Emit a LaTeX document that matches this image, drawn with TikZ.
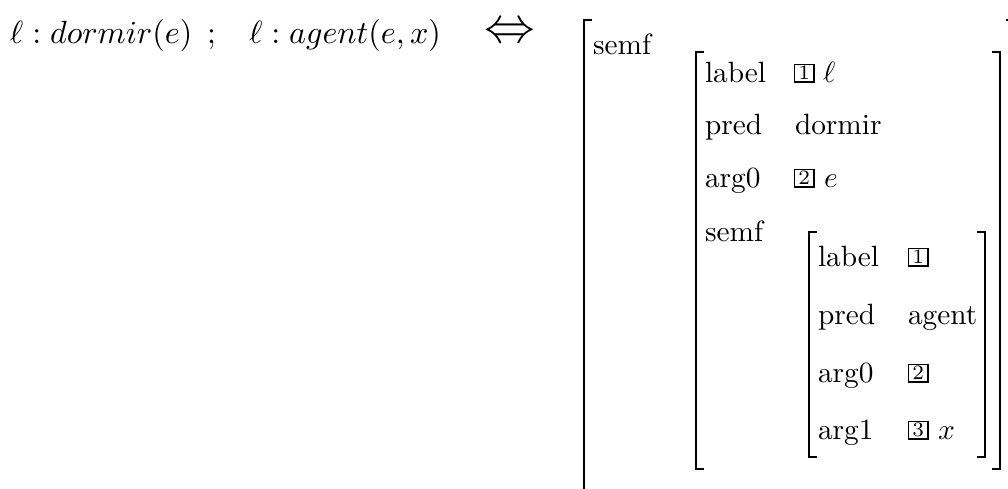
\documentclass[tikz,border=0pt]{standalone}
\begin{document}
\begin{tikzpicture}[x=0.341pt,y=-0.341pt,
  txt/.style={anchor=base west, inner sep=0, outer sep=0},
  ftxt/.style={txt, font=\fontsize{10.95}{13}\selectfont},
  brk/.style={line width=0.6pt},
  tagbox/.style={draw, line width=0.4pt, inner sep=0, minimum width=6.6pt, minimum height=6pt, font=\scriptsize, anchor=south west}]
\useasboundingbox (0,0) rectangle (1008,488);
\clip (0,0) rectangle (1008,488);
% formula
\node[ftxt] (f1) at (10,43) {$\ell : dormir(e)$};
\node[ftxt] (semi) at (207,43) {;};
\node[ftxt] (f2) at (249,43) {$\ell : agent(e,x)$};
\node[inner sep=0] (iff) at (510,33) {\LARGE$\Leftrightarrow$};
% brackets
\draw[brk] (592,20)--(584,20)--(584,500);
\draw[brk] (1006,20)--(1014,20)--(1014,500);
\draw[brk] (704,52)--(696,52)--(696,469)--(704,469);
\draw[brk] (992,52)--(1000,52)--(1000,469)--(992,469);
\draw[brk] (817,232)--(809,232)--(809,457)--(817,457);
\draw[brk] (977,232)--(985,232)--(985,457)--(977,457);
% outer
\node[txt] (semfo) at (593,54) {semf};
% inner 1
\node[txt] (l1) at (705,82) {label};
\node[tagbox] (t1) at (794,82.5) {1};
\node[txt] (v1) at (823,82) {$\ell$};
\node[txt] (l2) at (705,134) {pred};
\node[txt] (v2) at (795,134) {dormir};
\node[txt] (l3) at (705,187) {arg0};
\node[tagbox] (t2) at (794,187.5) {2};
\node[txt] (v3) at (824,187) {$e$};
\node[txt] (l4) at (705,241) {semf};
% inner 2
\node[txt] (m1) at (818,266) {label};
\node[tagbox] (t3) at (908,266.5) {1};
\node[txt] (m2) at (818,324) {pred};
\node[txt] (w2) at (908,324) {agent};
\node[txt] (m3) at (818,382) {arg0};
\node[tagbox] (t4) at (908,382.5) {2};
\node[txt] (m4) at (818,439) {arg1};
\node[tagbox] (t5) at (908,439.5) {3};
\node[txt] (w4) at (938,439) {$x$};
\end{tikzpicture}
\end{document}
